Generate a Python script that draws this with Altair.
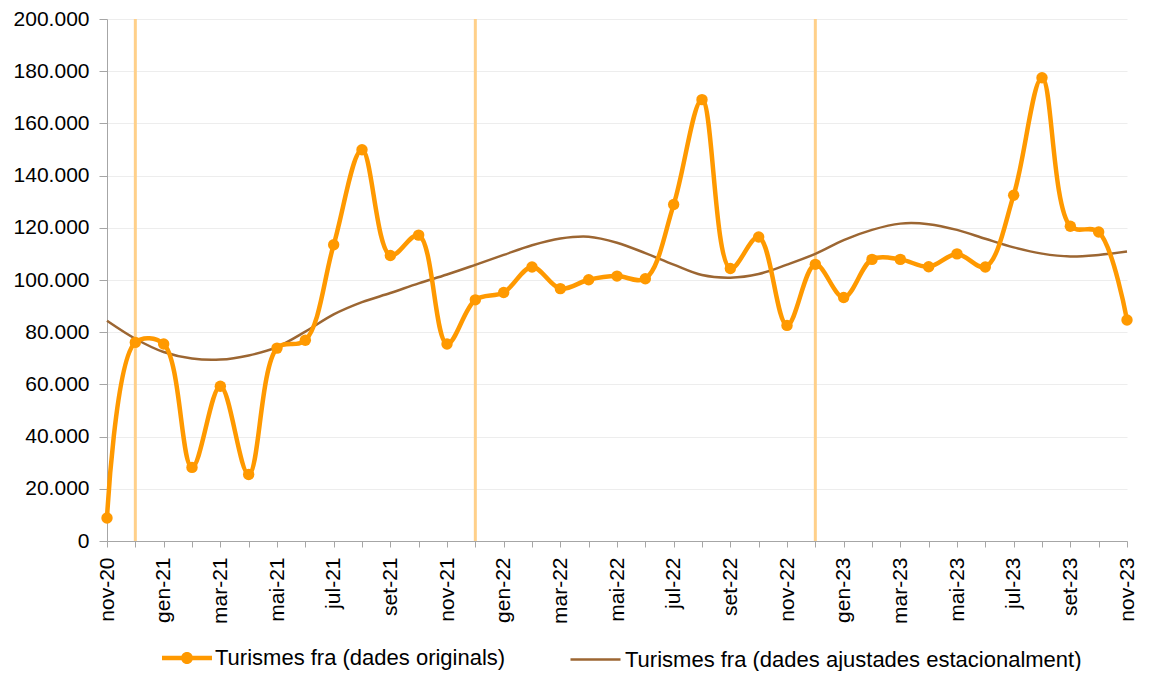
import altair as alt
import pandas as pd

# ---- data ----
mesos = ["nov-20", "des-20", "gen-21", "feb-21", "mar-21", "abr-21", "mai-21", "jun-21",
         "jul-21", "ago-21", "set-21", "oct-21", "nov-21", "des-21", "gen-22", "feb-22",
         "mar-22", "abr-22", "mai-22", "jun-22", "jul-22", "ago-22", "set-22", "oct-22",
         "nov-22", "des-22", "gen-23", "feb-23", "mar-23", "abr-23", "mai-23", "jun-23",
         "jul-23", "ago-23", "set-23", "oct-23", "nov-23"]

originals = [8800, 76100, 75500, 28200, 59300, 25500, 73900, 76900,
             113500, 149900, 109400, 117200, 75500, 92400, 95200, 105000,
             96700, 100100, 101500, 100500, 128900, 169100, 104400, 116500,
             82600, 106000, 93300, 107900, 107900, 105100, 110000, 105000,
             132500, 177500, 120600, 118400, 84700]

ajustades = [84400, 77500, 72400, 69900, 69500, 71100, 74300, 80200,
             86800, 91500, 95000, 98700, 102100, 105800, 109600, 113300,
             115900, 116600, 114300, 110300, 105900, 101900, 100900, 102300,
             105900, 110000, 115300, 119200, 121600, 121400, 119200, 115800,
             112500, 110100, 109000, 109600, 110900]

linies_verticals = ["des-20", "des-21", "des-22"]
y_valors = [0, 20000, 40000, 60000, 80000, 100000, 120000, 140000, 160000, 180000, 200000]
etiquetes_x = ["nov", "gen", "mar", "mai", "jul", "set"]

serie_orig = "Turismes fra (dades originals)"
serie_adj = "Turismes fra (dades ajustades estacionalment)"

df = pd.DataFrame({"mes": mesos, "orig": originals, "adj": ajustades,
                   "serie_o": serie_orig, "serie_a": serie_adj})
df_v = pd.DataFrame({"mes": linies_verticals})

ORANGE = "#FF9900"
BROWN = "#9C6632"
FONT = "Liberation Sans"

label_expr = ("indexof(" + str(etiquetes_x) + ", slice(datum.label, 0, 3)) >= 0 ? datum.label : ''")

x_enc = alt.X("mes:N", sort=mesos,
              scale=alt.Scale(type="point", padding=0),
              axis=alt.Axis(title=None, labelAngle=270, labelExpr=label_expr,
                            labelOverlap=False, tickSize=6, labelPadding=10,
                            grid=False))

y_scale = alt.Scale(domain=[0, 200000], nice=False)
y_axis = alt.Axis(title=None, values=y_valors, tickSize=8, labelPadding=10,
                  grid=True, gridColor="#EDEDED",
                  labelExpr="datum.value == 0 ? '0' : format(datum.value / 1000, 'd') + '.000'")

rules = alt.Chart(df_v).mark_rule(color="#FFD08A", strokeWidth=3).encode(x=alt.X("mes:N", sort=mesos))

adj_line = alt.Chart(df).mark_line(strokeWidth=2.5, interpolate="catmull-rom").encode(
    x=x_enc,
    y=alt.Y("adj:Q", scale=y_scale, axis=y_axis),
    color=alt.Color("serie_a:N", scale=alt.Scale(domain=[serie_adj], range=[BROWN]),
                    legend=alt.Legend(title=None, orient="none", legendX=462, legendY=614,
                                      symbolType="stroke", symbolSize=2500,
                                      symbolStrokeWidth=2.5, labelOffset=3)),
)

orig_line = alt.Chart(df).mark_line(color=ORANGE, strokeWidth=4.5, interpolate="catmull-rom").encode(
    x=alt.X("mes:N", sort=mesos),
    y=alt.Y("orig:Q", scale=y_scale),
)

orig_pts = alt.Chart(df).mark_point(filled=True, size=130, opacity=1).encode(
    x=alt.X("mes:N", sort=mesos),
    y=alt.Y("orig:Q", scale=y_scale),
    color=alt.Color("serie_o:N", scale=alt.Scale(domain=[serie_orig], range=[ORANGE]),
                    legend=alt.Legend(title=None, orient="none", legendX=55, legendY=614,
                                      symbolType="M-1,-0.09L1,-0.09L1,0.09L-1,0.09Z M-0.24,0A0.24,0.24 0 1,1 0.24,0A0.24,0.24 0 1,1 -0.24,0Z",
                                      symbolSize=2500, symbolStrokeWidth=0,
                                      symbolOpacity=1, labelOffset=3)),
)

chart = alt.layer(rules, adj_line, orig_line, orig_pts).resolve_scale(
    color="independent"
).properties(
    width=1020, height=522,
    autosize=alt.AutoSizeParams(type="none"),
    padding={"left": 99, "top": 11, "right": 14, "bottom": 130},
).configure_view(stroke=None).configure_axis(
    labelFont=FONT, labelFontSize=21, labelColor="#000000",
    domainColor="#A6A6A6", tickColor="#A6A6A6",
).configure_legend(
    labelFont=FONT, labelFontSize=22, labelColor="#000000", labelLimit=0,
)

chart.save("out.html", embed_options={"renderer": "svg", "actions": False})
